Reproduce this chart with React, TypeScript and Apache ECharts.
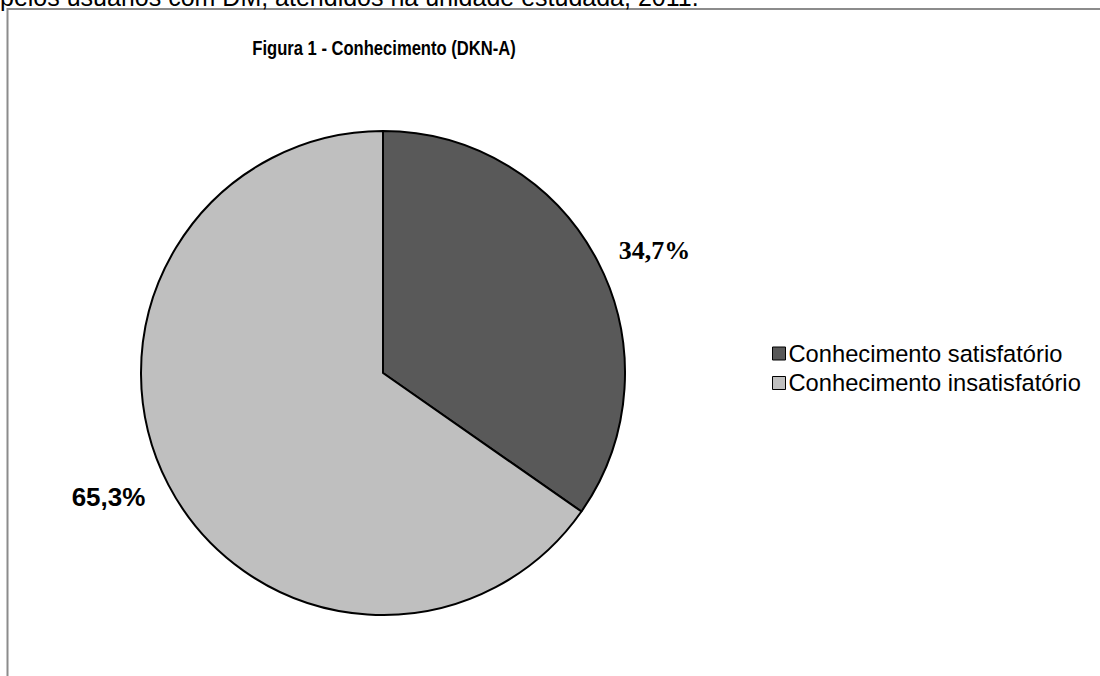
import React, { useEffect, useRef } from "react";
import * as echarts from "echarts";

const categories = ["Conhecimento satisfatório", "Conhecimento insatisfatório"];
const values = [34.7, 65.3];
const valueLabels = ["34,7%", "65,3%"];
const colors = ["#595959", "#bfbfbf"];
const titleText = "Figura 1 - Conhecimento (DKN-A)";
const captionText = "pelos usuários com DM, atendidos na unidade estudada, 2011.";

export default function App() {
  const ref = useRef<HTMLDivElement>(null);
  useEffect(() => {
    if (!ref.current) return;
    const chart = echarts.init(ref.current, null, { renderer: "svg" });
    const labelStyles = [
      { fontFamily: "Liberation Serif, Times New Roman, serif", length: 24 },
      { fontFamily: "Liberation Sans, Arial, sans-serif", length: 26 },
    ];
    chart.setOption({
      animation: false,
      backgroundColor: "#ffffff",
      legend: {
        orient: "vertical",
        left: 772,
        top: 341.5,
        padding: 0,
        icon: "rect",
        itemWidth: 13,
        itemHeight: 13,
        itemGap: 5.5,
        data: categories,
        itemStyle: { borderColor: "#000", borderWidth: 1 },
        textStyle: {
          fontFamily: "Liberation Sans, Arial, sans-serif",
          fontSize: 23.7,
          color: "#000",
          padding: [0, 0, 0, -2],
        },
      },
      graphic: [
        {
          type: "rect",
          shape: { x: 7.5, y: 9, width: 1200, height: 800 },
          style: { fill: "none", stroke: "#8c8c8c", lineWidth: 2 },
          silent: true,
        },
        {
          type: "text",
          x: 0,
          y: -2.7,
          style: {
            text: captionText,
            fontFamily: "Liberation Sans, Arial, sans-serif",
            fontSize: 25,
            fill: "#000",
            verticalAlign: "middle",
          },
          silent: true,
        },
        {
          type: "text",
          x: 384,
          y: 48,
          scaleX: 0.79,
          style: {
            text: titleText,
            fontFamily: "Liberation Sans, Arial, sans-serif",
            fontWeight: "bold",
            fontSize: 21,
            fill: "#000",
            align: "center",
            verticalAlign: "middle",
          },
          silent: true,
        },
      ],
      series: [
        {
          type: "pie",
          center: [383, 373],
          radius: 242,
          startAngle: 90,
          clockwise: true,
          avoidLabelOverlap: false,
          itemStyle: { borderColor: "#000", borderWidth: 2 },
          emphasis: { disabled: true },
          label: {
            show: true,
            position: "outside",
            fontWeight: "bold",
            fontSize: 26,
            color: "#000",
            distanceToLabelLine: 0,
            formatter: (p: any) => valueLabels[p.dataIndex],
          },
          labelLine: { show: false, length2: 0 },
          data: categories.map((name, i) => ({
            name,
            value: values[i],
            itemStyle: { color: colors[i] },
            label: { fontFamily: labelStyles[i].fontFamily },
            labelLine: { show: false, length: labelStyles[i].length, length2: 0 },
          })),
        },
      ],
    });
    return () => chart.dispose();
  }, []);
  return (
    <div
      ref={ref}
      style={{ position: "fixed", left: 0, top: 0, width: 1100, height: 676 }}
    />
  );
}
